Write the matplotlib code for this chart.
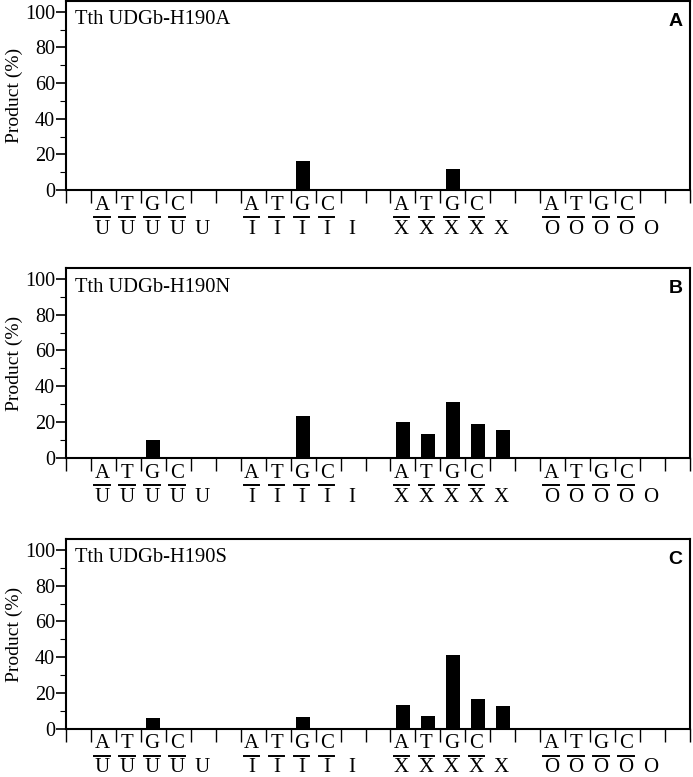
import numpy as np
import matplotlib
matplotlib.use('Agg')
import matplotlib.pyplot as plt
import matplotlib.transforms as mtransforms

plt.rcParams['font.family'] = ['Liberation Serif', 'DejaVu Serif']

# slot layout: 25 slots along the x axis, labels sit in the middle of a slot
top_base = ['', 'A', 'T', 'G', 'C', '', '', 'A', 'T', 'G', 'C', '', '',
            'A', 'T', 'G', 'C', '', '', 'A', 'T', 'G', 'C', '', '']
bot_base = ['', 'U', 'U', 'U', 'U', 'U', '', 'I', 'I', 'I', 'I', 'I', '',
            'X', 'X', 'X', 'X', 'X', '', 'O', 'O', 'O', 'O', 'O', '']

titles = ['Tth UDGb-H190A', 'Tth UDGb-H190N', 'Tth UDGb-H190S']
panel_tags = ['A', 'B', 'C']

# product (%) per slot
prod_A = [0, 0, 0, 0, 0, 0, 0, 0, 0, 16.5, 0, 0, 0,
          0, 0, 12, 0, 0, 0, 0, 0, 0, 0, 0, 0]
prod_B = [0, 0, 0.8, 10.3, 0, 0, 0, 0.5, 0.5, 23.5, 0, 0, 0,
          20, 13.3, 31.3, 18.9, 15.6, 0, 0, 0, 0, 0, 0, 0]
prod_C = [0, 0, 0, 6.0, 0, 0, 0, 0.3, 0, 6.7, 0, 0, 0,
          13.4, 7.4, 41.3, 16.7, 12.7, 0, 0, 0, 0, 0, 0, 0]
products = [prod_A, prod_B, prod_C]

W, H = 693, 777
fig = plt.figure(figsize=(W / 100, H / 100), dpi=100)

# axes boxes in pixels: (left, top, right, bottom)
boxes = [(66, 1, 690, 190), (66, 268, 690, 458), (66, 539, 690, 729)]

xpos = np.arange(len(top_base)) + 0.5

for k in range(3):
    l, t, r, b = boxes[k]
    ax = fig.add_axes([l / W, 1 - b / H, (r - l) / W, (b - t) / H])
    ax.bar(xpos, products[k], width=0.56, color='black', edgecolor='black', linewidth=0)
    ax.set_xlim(0, 25)
    ax.set_ylim(0, 106)
    ax.set_yticks([0, 20, 40, 60, 80, 100])
    ax.set_yticks([10, 30, 50, 70, 90], minor=True)
    ax.set_xticks(np.arange(0, 26))
    ax.set_xticklabels([])
    ax.tick_params(axis='y', which='major', length=7, width=1.2, labelsize=14.5, pad=1)
    ax.tick_params(axis='y', which='minor', length=4, width=0.8)
    ax.tick_params(axis='x', which='major', length=9, width=1.0, direction='out')
    for s in ax.spines.values():
        s.set_linewidth(1.5)
    ax.set_ylabel('Product (%)', fontsize=14, labelpad=1)

    ax.text(0.0145, 0.9, titles[k], transform=ax.transAxes, fontsize=14.8,
            ha='left', va='center')
    ax.text(0.988, 0.89, panel_tags[k], transform=ax.transAxes, fontsize=14,
            fontweight='bold', family='Liberation Sans', ha='right', va='center')

    xt = ax.get_xaxis_transform()
    tr_top = mtransforms.offset_copy(xt, fig=fig, x=-1.5, y=-15, units='dots')
    tr_line = mtransforms.offset_copy(xt, fig=fig, x=-1.5, y=-27, units='dots')
    tr_bot = mtransforms.offset_copy(xt, fig=fig, x=-1.5, y=-39, units='dots')
    for i in range(len(top_base)):
        if top_base[i]:
            ax.text(xpos[i], 0, top_base[i], transform=tr_top, fontsize=15,
                    ha='center', va='center')
            ax.plot([xpos[i] - 0.31, xpos[i] + 0.31], [0, 0], color='black',
                    lw=1.4, transform=tr_line, clip_on=False)
        if bot_base[i]:
            ax.text(xpos[i], 0, bot_base[i], transform=tr_bot, fontsize=15,
                    ha='center', va='center')

fig.savefig('out.png', dpi=100)
